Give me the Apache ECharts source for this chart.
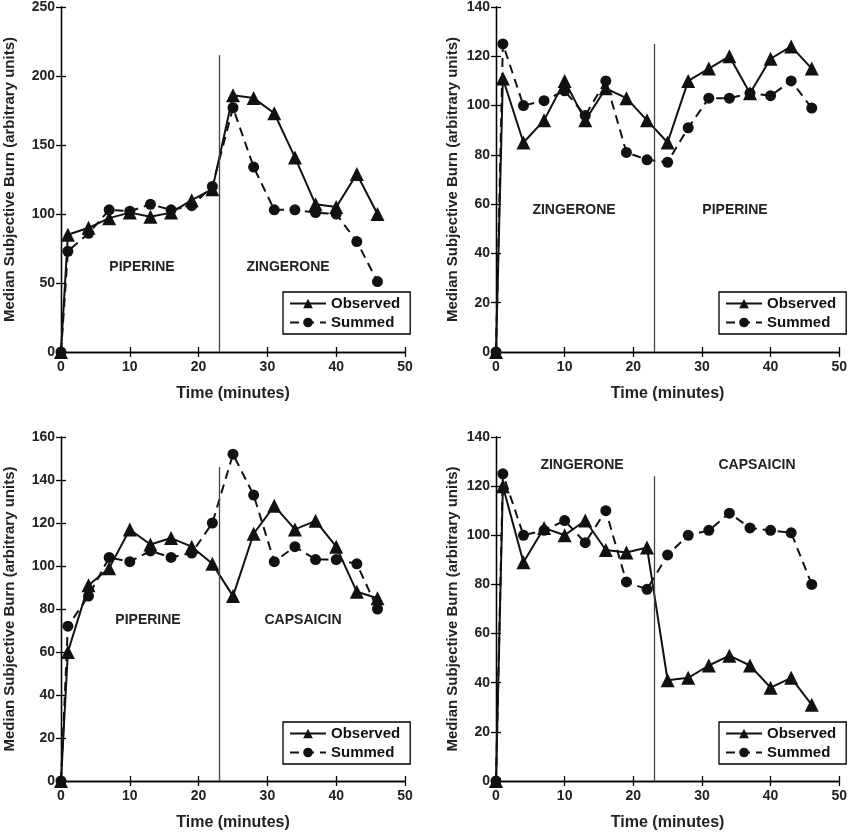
<!DOCTYPE html>
<html>
<head>
<meta charset="utf-8">
<script src="https://cdn.jsdelivr.net/npm/echarts@6/dist/echarts.min.js"></script>
<style>html,body{margin:0;padding:0;background:#fff}#c{width:850px;height:832px}</style>
</head>
<body>
<div id="c"></div>
<script>
// time points (minutes)
var times = [0, 1, 4, 7, 10, 13, 16, 19, 22, 25, 28, 31, 34, 37, 40, 43, 46];

// panel A: piperine then zingerone
var obsA = [0, 85, 90, 97, 101, 98, 101, 110, 118, 186, 184, 173, 141, 107, 105, 129, 100];
var sumA = [0, 73, 86, 103, 102, 107, 103, 106, 120, 177, 134, 103, 103, 101, 100, 80, 51];
// panel B: zingerone then piperine
var obsB = [0, 111, 85, 94, 110, 94, 107, 103, 94, 85, 110, 115, 120, 105, 119, 124, 115];
var sumB = [0, 125, 100, 102, 106, 96, 110, 81, 78, 77, 91, 103, 103, 105, 104, 110, 99];
// panel C: piperine then capsaicin
var obsC = [0, 60, 91, 99, 117, 110, 113, 109, 101, 86, 115, 128, 117, 121, 109, 88, 85];
var sumC = [0, 72, 86, 104, 102, 107, 104, 106, 120, 152, 133, 102, 109, 103, 103, 101, 80];
// panel D: zingerone then capsaicin
var obsD = [0, 120, 89, 103, 100, 106, 94, 93, 95, 41, 42, 47, 51, 47, 38, 42, 31];
var sumD = [0, 125, 100, 102, 106, 97, 110, 81, 78, 92, 100, 102, 109, 103, 102, 101, 80];

var yMax = [250, 140, 160, 140];
var yStep = [50, 20, 20, 20];
var switchTime = 23;
var switchTop = [215, 125, 146, 124];
var labels = [['PIPERINE', 'ZINGERONE'], ['ZINGERONE', 'PIPERINE'], ['PIPERINE', 'CAPSAICIN'], ['ZINGERONE', 'CAPSAICIN']];

var chart = echarts.init(document.getElementById('c'));
var font = 'Liberation Sans, Arial, sans-serif';

var grids = [
  {left: 61, top: 7, width: 344, height: 345},
  {left: 496, top: 7, width: 345, height: 345},
  {left: 61, top: 437, width: 344, height: 345},
  {left: 496, top: 437, width: 345, height: 345}
];
var labelPos = [
  [[142, 267], [288, 267]],
  [[574, 210], [735, 210]],
  [[148, 620], [303, 620]],
  [[582, 465], [757, 465]]
];
var obs = [obsA, obsB, obsC, obsD];
var sums = [sumA, sumB, sumC, sumD];

function pairs(arr) {
  return times.map(function (t, i) { return [t, arr[i]]; });
}

var xAxis = [], yAxis = [], series = [], graphic = [], legend = [];
grids.forEach(function (g, i) {
  var lineStyle = {color: '#000', width: 1.3};
  xAxis.push({
    gridIndex: i, type: 'value', min: 0, max: 50, interval: 10,
    name: 'Time (minutes)', nameLocation: 'middle', nameGap: 34,
    nameTextStyle: {fontFamily: font, fontWeight: 'bold', fontSize: 16, color: '#222'},
    axisLine: {lineStyle: lineStyle}, axisTick: {inside: true, length: 5, lineStyle: lineStyle},
    axisLabel: {fontFamily: font, fontWeight: 'bold', fontSize: 14, color: '#222', margin: 8},
    splitLine: {show: false}
  });
  xAxis.push({
    gridIndex: i, type: 'value', min: 0, max: 50, interval: 10, position: 'top',
    axisLine: {lineStyle: lineStyle}, axisTick: {inside: true, length: 5, lineStyle: lineStyle},
    axisLabel: {show: false}, splitLine: {show: false}
  });
  yAxis.push({
    gridIndex: i, type: 'value', min: 0, max: yMax[i], interval: yStep[i],
    name: 'Median Subjective Burn (arbitrary units)', nameLocation: 'middle', nameGap: i % 2 ? 36 : 44,
    nameTextStyle: {fontFamily: font, fontWeight: 'bold', fontSize: 15, color: '#222'},
    axisLine: {lineStyle: lineStyle}, axisTick: {inside: true, length: 5, lineStyle: lineStyle},
    axisLabel: {fontFamily: font, fontWeight: 'bold', fontSize: 14, color: '#222', margin: 6},
    splitLine: {show: false}
  });
  yAxis.push({
    gridIndex: i, type: 'value', min: 0, max: yMax[i], interval: yStep[i], position: 'right',
    axisLine: {lineStyle: lineStyle}, axisTick: {inside: true, length: 5, lineStyle: lineStyle},
    axisLabel: {show: false}, splitLine: {show: false}
  });
  series.push({
    name: 'Observed', type: 'line', xAxisIndex: i * 2, yAxisIndex: i * 2,
    data: pairs(obs[i]), symbol: 'triangle', symbolSize: 14,
    itemStyle: {color: '#111'}, lineStyle: {color: '#111', width: 2},
    markLine: {
      silent: true, symbol: 'none', label: {show: false},
      lineStyle: {color: '#444', width: 1.3, type: 'solid'},
      data: [[{coord: [switchTime, 0]}, {coord: [switchTime, switchTop[i]]}]]
    },
    z: 3
  });
  series.push({
    name: 'Summed', type: 'line', xAxisIndex: i * 2, yAxisIndex: i * 2,
    data: pairs(sums[i]), symbol: 'circle', symbolSize: 11,
    itemStyle: {color: '#111'}, lineStyle: {color: '#111', width: 2, type: [9, 6]},
    z: 2
  });
  labels[i].forEach(function (txt, k) {
    graphic.push({
      type: 'text', x: labelPos[i][k][0], y: labelPos[i][k][1],
      style: {text: txt, fontFamily: font, fontWeight: 'bold', fontSize: 14, fill: '#222', align: 'center', verticalAlign: 'middle'}
    });
  });
  legend.push({
    data: ['Observed', 'Summed'], orient: 'vertical',
    left: g.left + g.width - 122, top: g.top + g.height - 60,
    itemWidth: 36, itemHeight: 12, itemGap: 4,
    borderColor: '#000', borderWidth: 1.3, padding: [4, 10, 4, 6],
    textStyle: {fontFamily: font, fontWeight: 'bold', fontSize: 15, color: '#111'},
    selectedMode: false
  });
});

chart.setOption({
  animation: false,
  grid: grids,
  xAxis: xAxis,
  yAxis: yAxis,
  series: series,
  legend: legend,
  graphic: graphic
});
</script>
</body>
</html>
